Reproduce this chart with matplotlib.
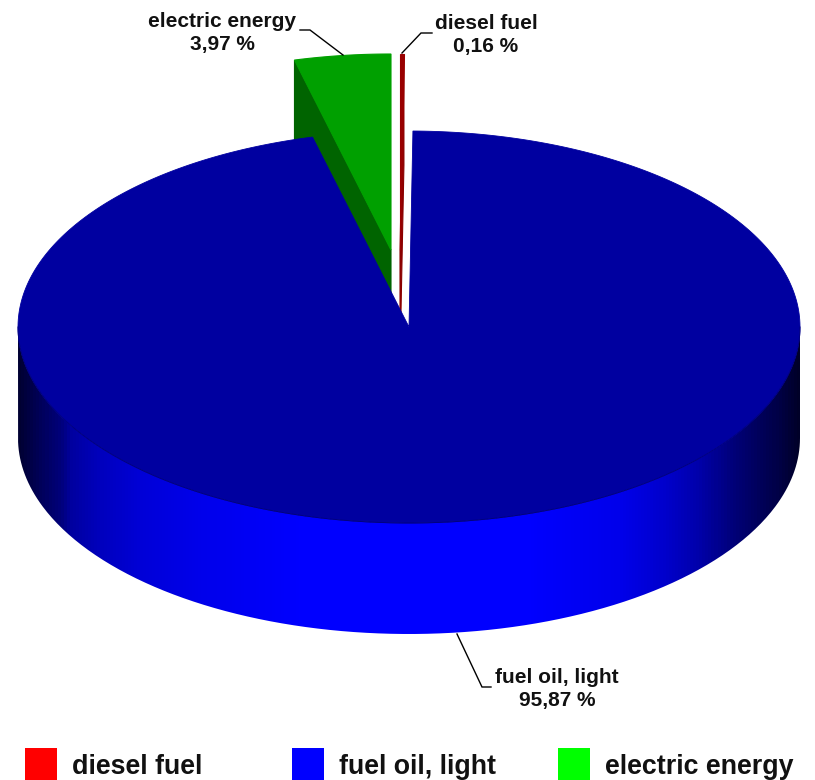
import numpy as np
import matplotlib
matplotlib.use("Agg")
import matplotlib.pyplot as plt
from matplotlib.colors import LinearSegmentedColormap
from matplotlib.patches import Polygon, PathPatch, Rectangle
from matplotlib.path import Path

# energy sources, clockwise from 12 o'clock
names = ["diesel fuel", "fuel oil, light", "electric energy"]
shares = [0.16, 95.87, 3.97]
legend_colors = ["#ff0000", "#0000ff", "#00ff00"]
top_colors = ["#990000", "#0000a0", "#00a000"]
wall_colors = ["#8a0000", "#000070", "#006400"]

# pie geometry in pixels
cx, cy = 409, 327
rx, ry = 391, 196
depth = 111
explode = [(-9, -77), (0, 0), (-18, -77)]


def rim(a, ox=0, oy=0):
    # a is degrees clockwise from the top
    t = np.radians(a)
    return cx + ox + rx * np.sin(t), cy + oy - ry * np.cos(t)


fig = plt.figure(figsize=(8.15, 7.8), dpi=100)
ax = fig.add_axes([0, 0, 1, 1])
ax.set_xlim(0, 815)
ax.set_ylim(780, 0)
ax.axis("off")

# start and end angle of each slice
edges = np.concatenate([[0], np.cumsum(shares)]) * 3.6


def wedge(i):
    ox, oy = explode[i]
    a = np.linspace(edges[i], edges[i + 1], 400)
    xs, ys = rim(a, ox, oy)
    return np.column_stack([np.r_[cx + ox, xs], np.r_[cy + oy, ys]])


# the two pulled out slices go first, the big one covers their lower part
for i in [2, 0]:
    ox, oy = explode[i]
    # cut face along the leading edge of the slice
    a = edges[i] if i == 2 else edges[i + 1]
    x1, y1 = rim(a, ox, oy)
    face = [(cx + ox, cy + oy), (x1, y1), (x1, y1 + depth), (cx + ox, cy + oy + depth)]
    ax.add_patch(Polygon(face, closed=True, fc=wall_colors[i], ec=wall_colors[i], lw=0.8, zorder=2))
    ax.add_patch(Polygon(wedge(i), closed=True, fc=top_colors[i], ec=top_colors[i], lw=0.8, zorder=3))

# outer wall of the big slice with its left-to-right shading
a = np.linspace(90, 270, 300)
xs, ys = rim(a)
wall = np.column_stack([np.r_[xs, xs[::-1]], np.r_[ys, ys[::-1] + depth]])
stops = [(0.0, "#000032"), (0.028, "#00005a"), (0.054, "#00007d"), (0.067, "#0000a0"),
         (0.105, "#0000be"), (0.156, "#0000d7"), (0.233, "#0000eb"), (0.36, "#0000ff"),
         (0.655, "#0000ff"), (0.77, "#0000eb"), (0.827, "#0000cd"), (0.872, "#0000aa"),
         (0.917, "#000078"), (0.974, "#000046"), (1.0, "#000028")]
shade = LinearSegmentedColormap.from_list("shade", stops)
im = ax.imshow(np.linspace(0, 1, 256)[None, :], cmap=shade, aspect="auto",
               extent=(cx - rx, cx + rx, cy + ry + depth, cy), zorder=4)
clip = PathPatch(Path(wall), transform=ax.transData, fc="none", ec="none")
ax.add_patch(clip)
im.set_clip_path(clip)
ax.set_xlim(0, 815)
ax.set_ylim(780, 0)

ax.add_patch(Polygon(wedge(1), closed=True, fc=top_colors[1], ec=top_colors[1], lw=0.6, zorder=5))
# thin dark seam between top face and wall
ax.plot(xs, ys, color="#000080", lw=0.7, zorder=5)

# leader lines and slice labels
leaders = [[(432, 33), (421, 33), (402, 53)],
           [(457, 634), (482, 687), (491, 687)],
           [(300, 30), (310, 30), (343, 55)]]
label_pos = [(486, 35), (557, 689), (222, 33)]
for i in range(3):
    lx, ly = zip(*leaders[i])
    ax.plot(lx, ly, color="black", lw=1, zorder=6, solid_joinstyle="miter")
    text = names[i] + "\n" + f"{shares[i]:.2f}".replace(".", ",") + " %"
    ax.text(label_pos[i][0], label_pos[i][1], text, ha="center", va="center", linespacing=1.27,
            fontsize=15, fontweight="bold", family="Liberation Sans", color="#111111", zorder=7)

# legend row along the bottom
swatch_x = [25, 292, 558]
for i in range(3):
    ax.add_patch(Rectangle((swatch_x[i], 748), 32, 32, fc=legend_colors[i], ec="none", zorder=6))
    ax.text(swatch_x[i] + 47, 767, names[i], ha="left", va="center", fontsize=19.3,
            fontweight="bold", family="Liberation Sans", color="#111111", zorder=7)

fig.savefig("out.png", dpi=100, facecolor="white")
